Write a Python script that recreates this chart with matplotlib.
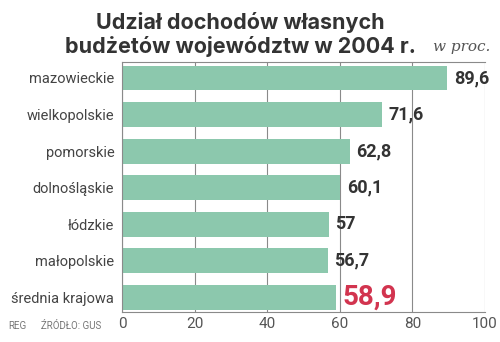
import numpy as np
import matplotlib
matplotlib.use("Agg")
import matplotlib.pyplot as plt

regions = ["mazowieckie", "wielkopolskie", "pomorskie", "dolnośląskie",
           "łódzkie", "małopolskie", "średnia krajowa"]
values = [89.6, 71.6, 62.8, 60.1, 57.0, 56.7, 58.9]
value_labels = ["89,6", "71,6", "62,8", "60,1", "57", "56,7", "58,9"]
x_ticks = [0, 20, 40, 60, 80, 100]

BAR = "#8cc8ad"
DARK = "#333333"
RED = "#d2344f"
GRID = "#8a8a8a"

plt.rcParams["font.family"] = ["Roboto", "DejaVu Sans"]

fig = plt.figure(figsize=(5.0, 3.42), dpi=100)
ax = fig.add_axes([0.244, 0.088, 0.726, 0.731])

y = np.arange(len(regions))
ax.barh(y, values, height=0.68, color=BAR, zorder=2)
ax.set_xlim(0, 100)
ax.set_ylim(6.4, -0.44)

ax.set_xticks(x_ticks)
ax.set_xticklabels([str(t) for t in x_ticks], fontsize=11, color="#555555")
ax.xaxis.grid(True, color=GRID, lw=0.8, zorder=0)
ax.tick_params(axis="x", length=0, pad=4)
ax.tick_params(axis="y", length=0, pad=5.5)
ax.set_yticks(y)
ax.set_yticklabels(regions, fontsize=10.5, color="#444444")
for s in ["left", "bottom", "top"]:
    ax.spines[s].set_color(GRID)
    ax.spines[s].set_linewidth(0.8)
ax.spines["right"].set_visible(False)

for i, (v, lab) in enumerate(zip(values, value_labels)):
    if i == len(values) - 1:
        ax.text(v + 1.8, i, lab, va="center", ha="left", fontsize=20,
                fontweight="bold", color=RED, zorder=3)
    else:
        ax.text(v + 1.8, i, lab, va="center", ha="left", fontsize=13,
                fontweight="bold", color=DARK, zorder=3)

title_font = ["Inter", "Roboto", "DejaVu Sans"]
fig.text(0.48, 0.935, "Udział dochodów własnych", ha="center", va="center",
         fontsize=15.5, fontweight="bold", color=DARK, family=title_font)
fig.text(0.48, 0.865, "budżetów województw w 2004 r.", ha="center", va="center",
         fontsize=15.5, fontweight="bold", color=DARK, family=title_font)
fig.text(0.98, 0.862, "w proc.", ha="right", va="center", fontsize=11,
         style="italic", family="DejaVu Serif", color="#555555")
fig.text(0.016, 0.047, "REG", ha="left", va="center", fontsize=7, color="#777777")
fig.text(0.082, 0.047, "ŹRÓDŁO: GUS", ha="left", va="center", fontsize=7,
         color="#777777")

fig.savefig("out.png", dpi=100)
